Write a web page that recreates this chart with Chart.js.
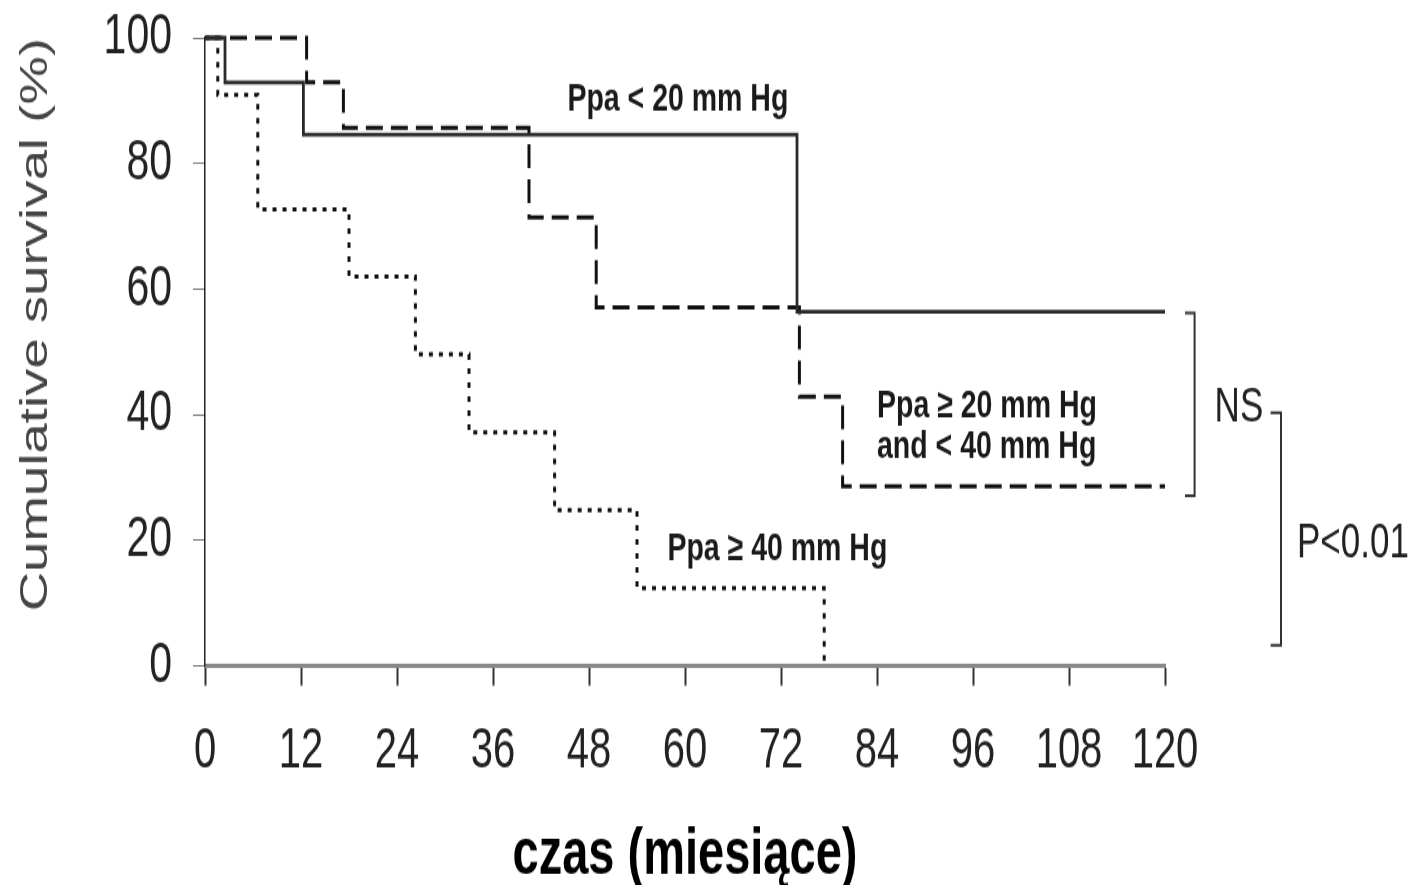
<!DOCTYPE html>
<html>
<head>
<meta charset="utf-8">
<script src="https://cdn.jsdelivr.net/npm/chart.js@4.4.1/dist/chart.umd.min.js"></script>
<style>
  html, body { margin: 0; padding: 0; background: #fff; }
  #outer { width: 1416px; height: 885px; position: relative; overflow: hidden; }
  /* the original figure is a vertically stretched scan, so the canvas is drawn short and stretched */
  #wrap { position: absolute; left: 0; top: 0; width: 1416px; height: 632px; transform: scale(1, 1.4003); transform-origin: 0 0; }
</style>
</head>
<body>
<div id="outer"><div id="wrap"><canvas id="myChart" width="1416" height="632"></canvas></div></div>
<script>
// survival curves (months, % surviving)
const monthsLow = [0, 2.5, 12.3, 74.0, 120];
const survLow = [100, 92.9, 84.6, 56.4, 56.4];

const monthsMid = [0, 12.7, 17.3, 40.5, 48.9, 74.3, 79.7, 120];
const survMid = [100, 92.9, 85.7, 71.4, 57.1, 42.9, 28.6, 28.6];

const monthsHigh = [0, 1.6, 6.6, 18.0, 26.3, 33.0, 43.7, 54.0, 77.4];
const survHigh = [100, 90.9, 72.7, 62.0, 49.6, 37.2, 24.8, 12.4, 0];

const xTicks = [0, 12, 24, 36, 48, 60, 72, 84, 96, 108, 120];
const yTicks = [0, 20, 40, 60, 80, 100];

const FONT = "'Liberation Sans', Arial, Helvetica, sans-serif";

function toPoints(xs, ys) {
    return xs.map((x, i) => ({ x: x, y: ys[i] }));
}

// labels next to the curves (x in months, y = baseline in %)
const notes = [
    { text: 'Ppa < 20 mm Hg', x: 45.3, y: 88.4 },
    { text: 'Ppa \u2265 20 mm Hg', x: 84.0, y: 39.5 },
    { text: 'and < 40 mm Hg', x: 84.0, y: 33.1 },
    { text: 'Ppa \u2265 40 mm Hg', x: 57.8, y: 16.9 }
];

const annotate = {
    id: 'annotate',
    afterDatasetsDraw(chart) {
        const ctx = chart.ctx;
        const xs = chart.scales.x, ys = chart.scales.y;
        ctx.save();
        ctx.fillStyle = '#1a1a1a';
        ctx.textBaseline = 'alphabetic';
        ctx.textAlign = 'left';
        ctx.font = "bold 28.5px " + FONT;
        notes.forEach(n => {
            ctx.fillText(n.text, xs.getPixelForValue(n.x), ys.getPixelForValue(n.y));
        });

        // NS bracket
        ctx.strokeStyle = '#333';
        ctx.lineWidth = 2;
        const b1 = xs.getPixelForValue(123.7), b1h = xs.getPixelForValue(122.5);
        const t1 = ys.getPixelForValue(56.2), e1 = ys.getPixelForValue(27.1);
        ctx.beginPath();
        ctx.moveTo(b1h, t1); ctx.lineTo(b1, t1); ctx.lineTo(b1, e1); ctx.lineTo(b1h, e1);
        ctx.stroke();
        // P<0.01 bracket
        const b2 = xs.getPixelForValue(134.5), b2h = xs.getPixelForValue(133.2);
        const t2 = ys.getPixelForValue(40.3), e2 = ys.getPixelForValue(3.3);
        ctx.beginPath();
        ctx.moveTo(b2h, t2); ctx.lineTo(b2, t2); ctx.lineTo(b2, e2); ctx.lineTo(b2h, e2);
        ctx.stroke();

        ctx.fillStyle = '#222';
        ctx.font = "35px " + FONT;
        ctx.fillText('NS', xs.getPixelForValue(126.2), ys.getPixelForValue(38.9));
        ctx.fillText('P<0.01', xs.getPixelForValue(136.5), ys.getPixelForValue(17.2));
        ctx.restore();
    }
};

const ctx = document.getElementById('myChart');
new Chart(ctx, {
    type: 'line',
    data: {
        datasets: [{
            label: 'Ppa < 20 mm Hg',
            data: toPoints(monthsLow, survLow),
            borderColor: '#2a2a2a',
            borderWidth: 2.8,
            stepped: true,
            pointRadius: 0,
            clip: 12
        }, {
            label: 'Ppa 20-40 mm Hg',
            data: toPoints(monthsMid, survMid),
            borderColor: '#111',
            borderWidth: 3,
            borderDash: [17, 8],
            stepped: true,
            pointRadius: 0,
            clip: 12
        }, {
            label: 'Ppa >= 40 mm Hg',
            data: toPoints(monthsHigh, survHigh),
            borderColor: '#111',
            borderWidth: 3,
            borderDash: [4, 6],
            stepped: true,
            pointRadius: 0,
            clip: 12
        }]
    },
    options: {
        responsive: false,
        animation: false,
        layout: { padding: { top: 27, right: 251, bottom: 0, left: 0 } },
        plugins: { legend: { display: false }, tooltip: { enabled: false } },
        scales: {
            x: {
                type: 'linear',
                min: 0,
                max: 120,
                afterBuildTicks: (s) => { s.ticks = xTicks.map(v => ({ value: v })); },
                afterFit: (s) => {
                    s.height = 156.4;
                    s.paddingLeft = 0; s.paddingRight = 0;
                },
                border: { display: true, color: '#888', width: 3 },
                grid: { drawOnChartArea: false, drawTicks: true, tickLength: 14, color: '#333', tickWidth: 2 },
                ticks: {
                    autoSkip: false,
                    maxRotation: 0,
                    padding: 23,
                    color: '#222',
                    font: { family: FONT, size: 40 }
                },
                title: {
                    display: true,
                    text: 'czas (miesiące)',
                    color: '#000',
                    padding: { top: 0, bottom: 0 },
                    font: { family: FONT, size: 47, weight: 'bold', lineHeight: 0.9 }
                }
            },
            y: {
                min: 0,
                max: 100,
                afterBuildTicks: (s) => { s.ticks = yTicks.map(v => ({ value: v })); },
                afterFit: (s) => {
                    s.width = 205;
                    s.paddingTop = 0; s.paddingBottom = 0;
                },
                border: { display: true, color: '#222', width: 1.5 },
                grid: { drawOnChartArea: false, drawTicks: true, tickLength: 12, color: '#777', tickWidth: 1 },
                ticks: {
                    padding: 21,
                    color: '#222',
                    font: { family: FONT, size: 41 }
                },
                title: {
                    display: true,
                    text: 'Cumulative survival (%)',
                    align: 'end',
                    color: '#444',
                    padding: { top: 17, bottom: 0 },
                    font: { family: FONT, size: 39, lineHeight: 1 }
                }
            }
        }
    },
    plugins: [annotate]
});
</script>
</body>
</html>
